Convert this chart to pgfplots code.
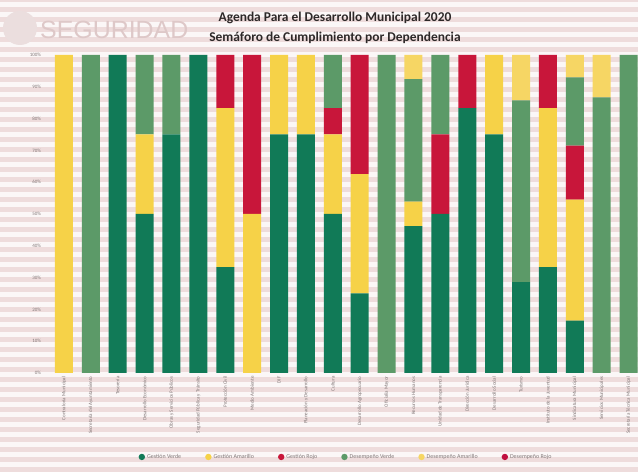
\documentclass[border=0pt]{standalone}
\usepackage{fontspec}
\setmainfont{Carlito}
\newfontfamily\segfont{Liberation Sans}
\usepackage{pgfplots}
\usepackage{pgfplotstable}
\pgfplotsset{compat=1.18}
\definecolor{gv}{RGB}{17,122,87}
\definecolor{ga}{RGB}{246,210,72}
\definecolor{gr}{RGB}{200,22,58}
\definecolor{dv}{RGB}{92,154,104}
\definecolor{da}{RGB}{246,214,100}
\definecolor{dr}{RGB}{192,16,64}
\definecolor{stripe}{RGB}{238,220,220}
\definecolor{bgw}{RGB}{251,247,247}
\definecolor{lbl}{RGB}{130,120,120}
\definecolor{segcol}{RGB}{222,200,200}
\definecolor{titlecol}{RGB}{45,40,40}

\pgfplotstableread{
x GV GA GR DV DA DR
0 0 100 0 0 0 0
1 0 0 0 100 0 0
2 100 0 0 0 0 0
3 50 25 0 25 0 0
4 75 0 0 25 0 0
5 100 0 0 0 0 0
6 33.3 50 16.7 0 0 0
7 0 50 50 0 0 0
8 75 25 0 0 0 0
9 75 25 0 0 0 0
10 50 25 8.3 16.7 0 0
11 25 37.5 37.5 0 0 0
12 0 0 0 100 0 0
13 46.2 7.7 0 38.5 7.6 0
14 50 0 25 25 0 0
15 83.3 0 16.7 0 0 0
16 75 25 0 0 0 0
17 28.6 0 0 57.1 14.3 0
18 33.3 50 16.7 0 0 0
19 16.5 38 17 21.5 7 0
20 0 0 0 86.7 13.3 0
21 0 0 0 100 0 0
}\datatable

\begin{document}
\begin{tikzpicture}
\useasboundingbox (0bp,0bp) rectangle (638bp,472bp);
\fill[bgw] (0bp,0bp) rectangle (638bp,472bp);
\foreach \k in {0,...,47} { \fill[stripe] (0bp,\k*10bp) rectangle (638bp,\k*10bp+4.5bp); }
\fill[segcol!60] (20bp,444bp) circle (17bp);
\node[anchor=west, text=segcol, font=\segfont\fontsize{25}{25}\selectfont, inner sep=0pt] at (40bp,442bp) {SEGURIDAD};
\node[font=\bfseries\fontsize{13.5}{15}\selectfont, text=titlecol] at (335bp,454bp) {Agenda Para el Desarrollo Municipal 2020};
\node[font=\bfseries\fontsize{13.5}{15}\selectfont, text=titlecol] at (335bp,434bp) {Semáforo de Cumplimiento por Dependencia};
\begin{axis}[
  at={(50.5bp,99bp)}, anchor=south west,
  scale only axis, width=587.5bp, height=318bp,
  ybar stacked, bar width=18bp,
  xmin=-0.5, xmax=21.35, ymin=0, ymax=100,
  axis line style={draw=none},
  major tick length=0pt,
  ytick={0,10,...,100},
  yticklabel={\pgfmathprintnumber[assume math mode=true]{\tick}\%},
  yticklabel style={font=\fontsize{5}{5}\selectfont, text=lbl, xshift=-6bp},
  xtick={0,...,21},
  xticklabels={Contraloría Municipal,Secretaría del Ayuntamiento,Tesorería,Desarrollo Económico,Obras y Servicios Públicos,Seguridad Pública y Tránsito,Protección Civil,Medio Ambiente,DIF,Planeación y Desarrollo,Cultura,Desarrollo Agropecuario,Oficialía Mayor,Recursos Humanos,Unidad de Transparencia,Dirección Jurídica,Desarrollo Social,Turismo,Instituto de la Juventud,Sindicatura Municipal,Servicios Municipales,Secretaría Técnica Municipal},
  xticklabel style={rotate=90, anchor=east, font=\fontsize{5}{5}\selectfont, text=lbl},
  legend style={at={(0.503,-0.264)}, anchor=center, draw=none, fill=none,
    font=\fontsize{6}{7}\selectfont, text=lbl, legend columns=6,
    /tikz/every even column/.append style={column sep=22bp}},
  legend image code/.code={\fill[#1] (3bp,0bp) circle (3.2bp);},
  legend entries={Gestión Verde,Gestión Amarillo,Gestión Rojo,Desempeño Verde,Desempeño Amarillo,Desempeño Rojo},
]
\addplot[fill=gv, draw=none] table[x=x,y=GV] {\datatable};
\addplot[fill=ga, draw=none] table[x=x,y=GA] {\datatable};
\addplot[fill=gr, draw=none] table[x=x,y=GR] {\datatable};
\addplot[fill=dv, draw=none] table[x=x,y=DV] {\datatable};
\addplot[fill=da, draw=none] table[x=x,y=DA] {\datatable};
\addplot[fill=dr, draw=none] table[x=x,y=DR] {\datatable};
\end{axis}
\end{tikzpicture}
\end{document}
